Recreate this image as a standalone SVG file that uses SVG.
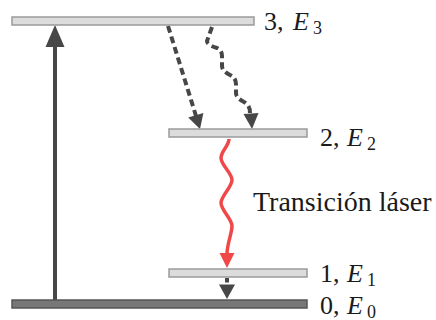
<svg xmlns="http://www.w3.org/2000/svg" width="436" height="320" viewBox="0 0 436 320">
<style>
.lvl{fill:#dcdcdc;stroke:#9a9a9a;stroke-width:1.5}
.gnd{fill:#777;stroke:#555;stroke-width:1.5}
.t{font-size:26px;fill:#1a1a1a}
.big{font-size:28px}
.it{font-style:italic}
.sub{font-size:18px}
.dk{stroke:#474747;fill:none;stroke-width:4}
.dash{stroke-dasharray:7 4}
.hd{fill:#474747}
.red{stroke:#f04848;fill:none;stroke-width:3.5}
</style>
<rect width="436" height="320" fill="#fff"/>
<g id="connectors">
  <line class="dk" x1="55" y1="300" x2="55" y2="44"/>
  <polygon class="hd" points="55,25 45.5,47 64.5,47"/>
  <line class="dk dash" x1="168" y1="26" x2="196" y2="116"/>
  <polygon class="hd" points="200,129 188.2,117.5 203.4,113"/>
  <path class="dk dash" d="M212,27 L207,41 Q207,45 217,48 Q222,50 222,56 L222,66 Q222,71 230,75 Q236,78 236,84 L236,93 Q236,98 244,102 Q250,105 250,113"/>
  <polygon class="hd" points="252,129 243.5,114 258.5,113"/>
  <path class="red" d="M229,139 C229,146 221,151 221,158 S232,173 232,180 S221,196 221,203 S232,219 232,226 S227,244 227,254"/>
  <polygon fill="#f04848" points="227,268 219.5,253 234.5,253"/>
  <line class="dk" x1="227" y1="278" x2="227" y2="282.5"/>
  <polygon class="hd" points="227,299 219,284.5 235,284.5"/>
</g>
<g id="level3">
  <rect class="lvl" x="12" y="17" width="242" height="8"/>
  <text class="t" font-family="'Liberation Serif','DejaVu Serif','Times New Roman',serif" x="264" y="30">3,<tspan class="it" x="293">E</tspan><tspan class="sub" x="313" dy="4">3</tspan></text>
</g>
<g id="level2">
  <rect class="lvl" x="169" y="129" width="138" height="8"/>
  <text class="t" font-family="'Liberation Serif','DejaVu Serif','Times New Roman',serif" x="320" y="146">2,<tspan class="it" x="347">E</tspan><tspan class="sub" x="367" dy="4">2</tspan></text>
</g>
<g id="transition-label">
  <text class="t big" font-family="'Liberation Serif','DejaVu Serif','Times New Roman',serif" x="253" y="211">Transición láser</text>
</g>
<g id="level1">
  <rect class="lvl" x="169" y="269" width="138" height="8"/>
  <text class="t" font-family="'Liberation Serif','DejaVu Serif','Times New Roman',serif" x="320" y="282">1,<tspan class="it" x="347">E</tspan><tspan class="sub" x="367" dy="4">1</tspan></text>
</g>
<g id="level0">
  <rect class="gnd" x="12" y="300" width="295" height="8"/>
  <text class="t" font-family="'Liberation Serif','DejaVu Serif','Times New Roman',serif" x="320" y="313.5">0,<tspan class="it" x="347">E</tspan><tspan class="sub" x="367" dy="4">0</tspan></text>
</g>
</svg>
